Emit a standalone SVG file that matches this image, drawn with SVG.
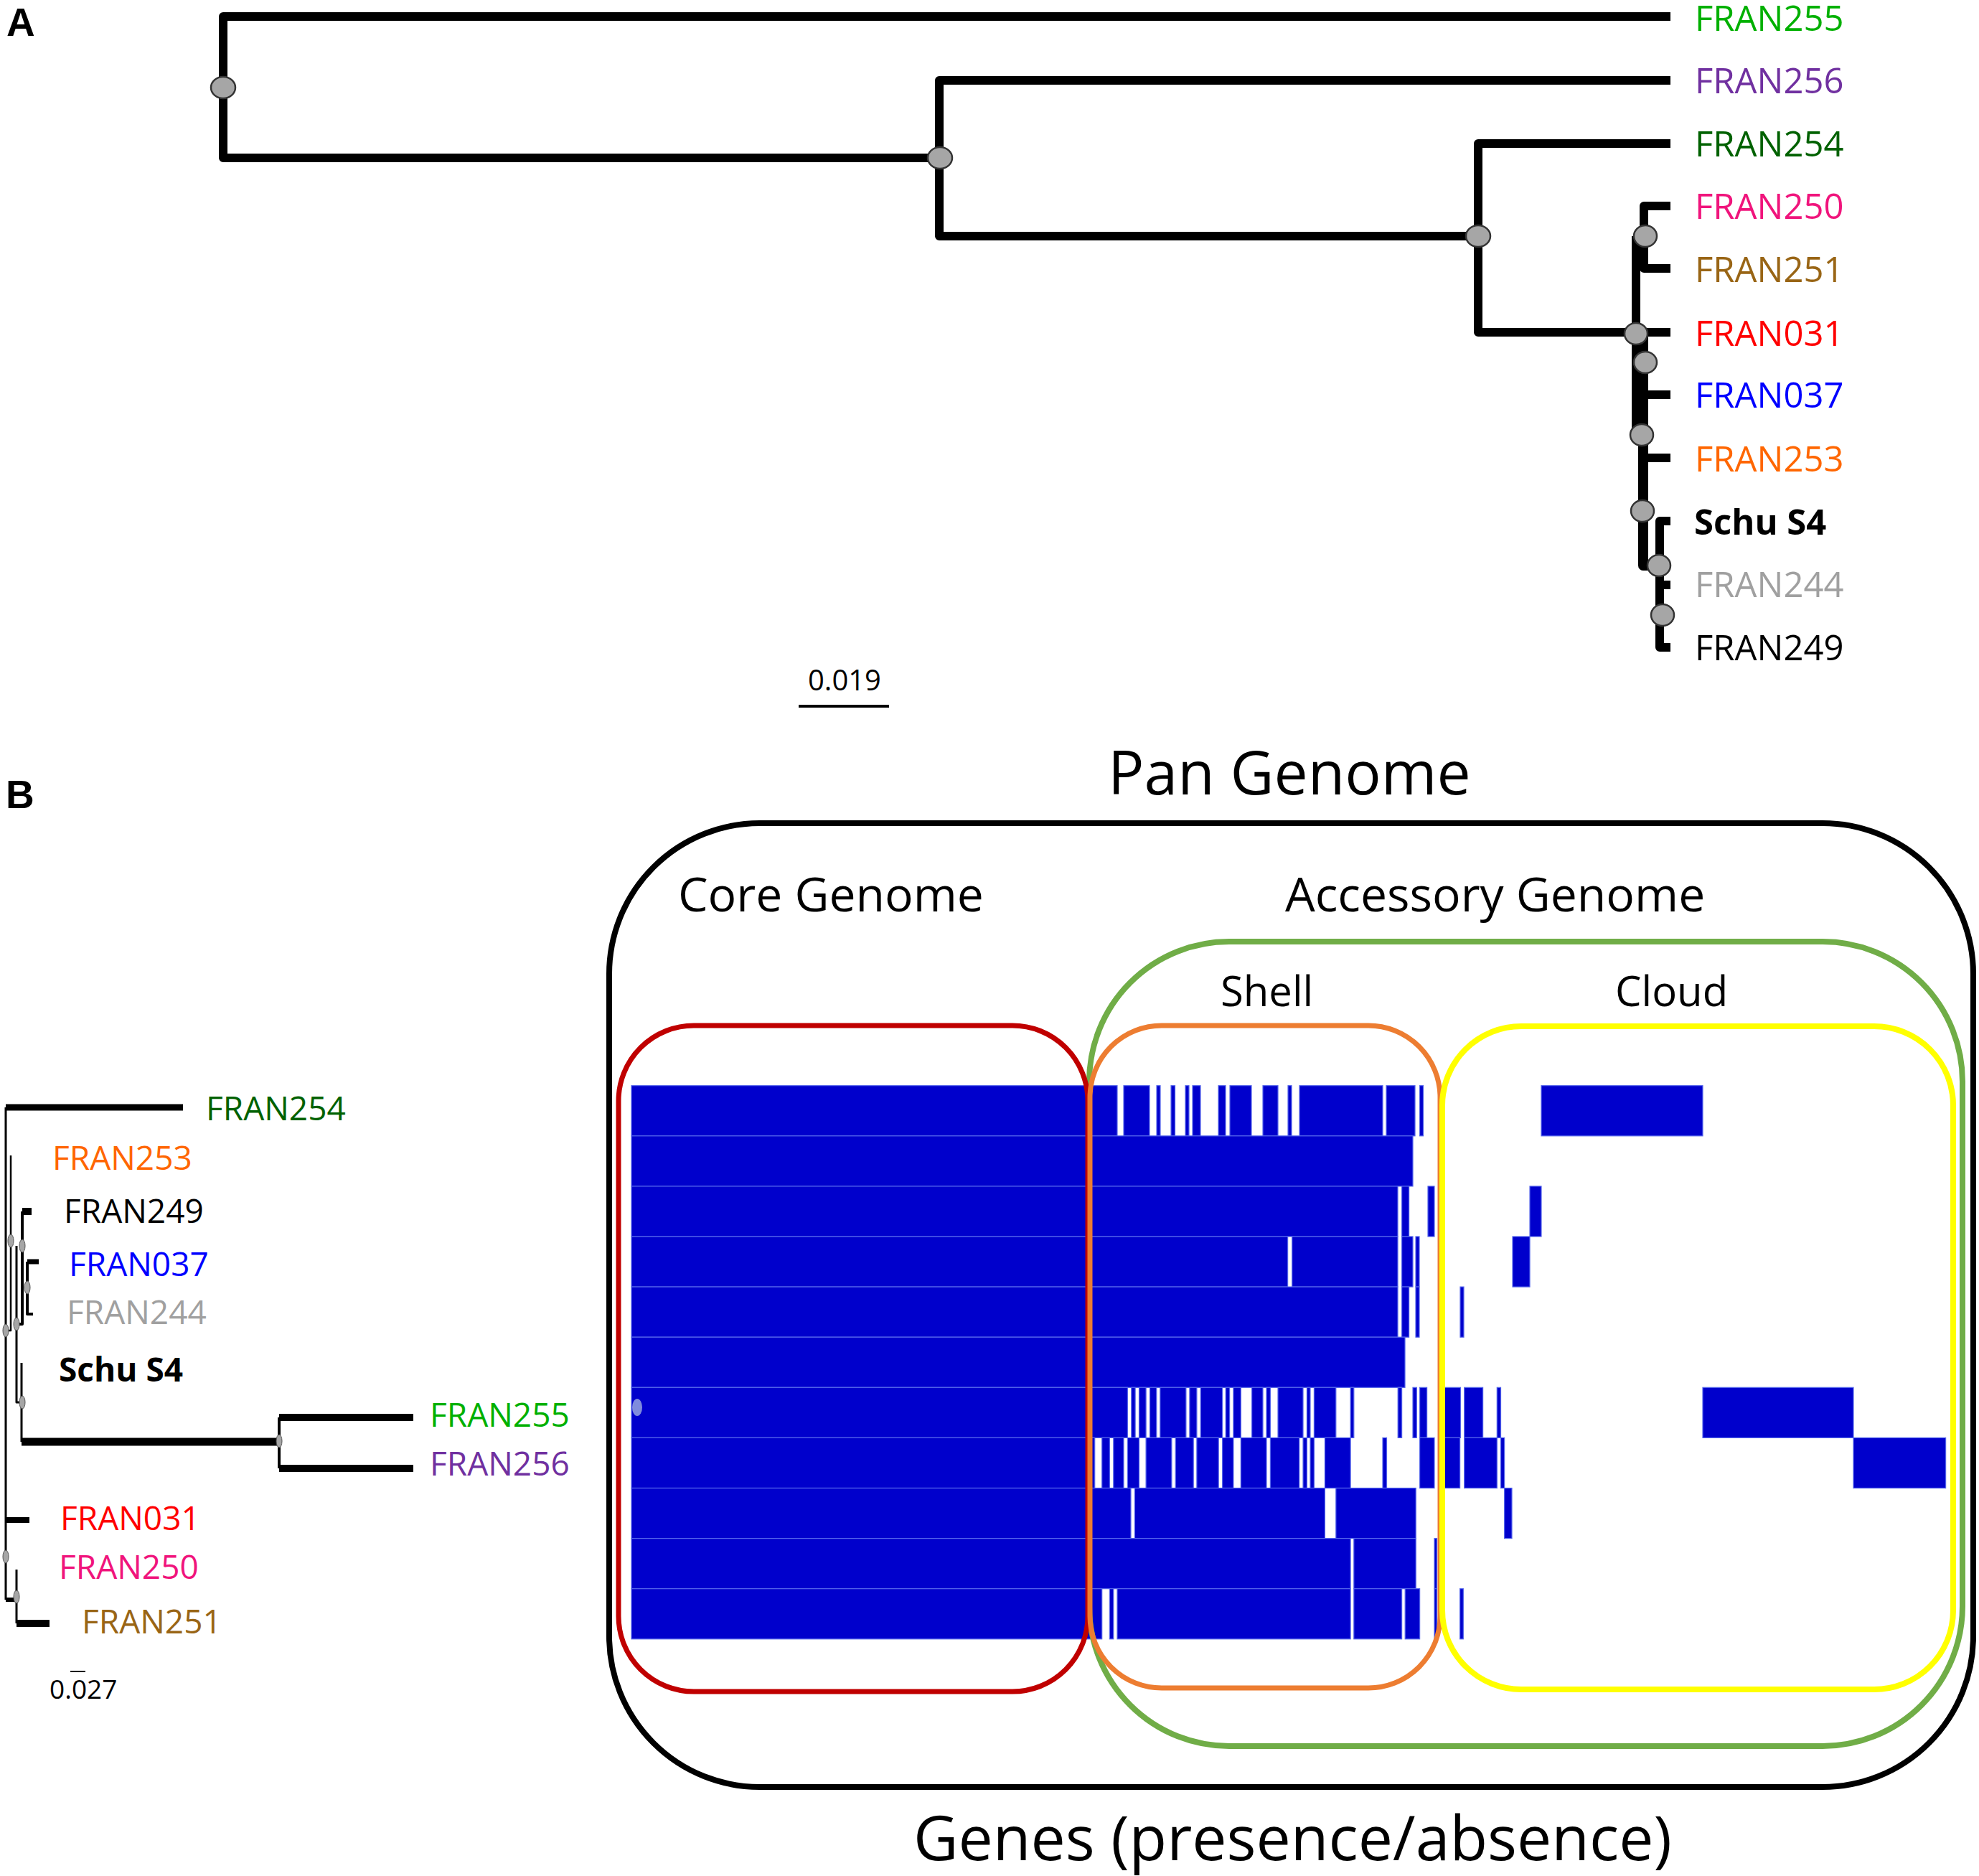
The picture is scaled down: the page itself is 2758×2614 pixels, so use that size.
<svg xmlns="http://www.w3.org/2000/svg" width="2758" height="2614" viewBox="0 0 2758 2614">
<style>
text{font-family:'Open Sans','Noto Sans',sans-serif;}
.pl{font-family:'Liberation Sans',Arial,sans-serif;font-weight:bold;font-size:55px;fill:#000;}
.la{font-size:49px;}
.lb{font-size:46px;}
.br{fill:none;stroke:#000;stroke-linejoin:round;stroke-linecap:butt;}
.ta{stroke-width:12;}
.nd{fill:#A6A6A6;stroke:#333;stroke-width:2.5;}
.ndb{fill:#A6A6A6;stroke:#555;stroke-width:1;}
.b rect{fill:#0000CC;stroke:#5566EC;stroke-width:1.2;}
.box{fill:none;}
.c255{fill:#00B000;}.c256{fill:#7030A0;}.c254{fill:#006100;}.c250{fill:#F0147C;}
.c251{fill:#996515;}.c031{fill:#FF0000;}.c037{fill:#0000FF;}.c253{fill:#FF6600;}
.c244{fill:#A0A0A0;}.c249{fill:#000;}.cs4{fill:#000;font-weight:bold;}
</style>

<text class="pl" x="9" y="50">A</text>
<text class="pl" x="8" y="1126">B</text>

<!-- Tree A connectors -->
<g id="treeA-connectors">
<path class="br ta" d="M2328,23 H311 V220 H1309"/>
<path class="br ta" d="M2328,112 H1309 V329 H2060"/>
<path class="br ta" d="M2328,200 H2060 V463 H2328"/>
<path class="br ta" d="M2280,329 V610"/>
<path class="br ta" d="M2328,287 H2291 V374 H2328"/>
<path class="br" stroke-width="14" d="M2290,463 V788 H2313"/>
<path class="br ta" d="M2291,550 H2328"/>
<path class="br ta" d="M2291,638 H2328"/>
<path class="br ta" d="M2328,726 H2313 V902 H2328"/>
<path class="br ta" d="M2313,815 H2328"/>
<path class="br" stroke-width="4" d="M1113,984 H1239"/>
</g>
<g id="treeA-nodes">
<ellipse class="nd" cx="311" cy="122" rx="17" ry="15"/>
<ellipse class="nd" cx="1310" cy="220" rx="17" ry="15"/>
<ellipse class="nd" cx="2060" cy="329" rx="17" ry="15"/>
<ellipse class="nd" cx="2293" cy="329" rx="16" ry="15"/>
<ellipse class="nd" cx="2280" cy="465" rx="16" ry="15"/>
<ellipse class="nd" cx="2293" cy="505" rx="16" ry="15"/>
<ellipse class="nd" cx="2288" cy="606" rx="16" ry="15"/>
<ellipse class="nd" cx="2289" cy="712" rx="16" ry="15"/>
<ellipse class="nd" cx="2312" cy="788" rx="16" ry="15"/>
<ellipse class="nd" cx="2317" cy="857" rx="16" ry="15"/>
</g>
<g id="treeA-labels">
<g id="a-FRAN255"><text class="la c255" x="2362" y="43">FRAN255</text></g>
<g id="a-FRAN256"><text class="la c256" x="2362" y="130">FRAN256</text></g>
<g id="a-FRAN254"><text class="la c254" x="2362" y="218">FRAN254</text></g>
<g id="a-FRAN250"><text class="la c250" x="2362" y="305">FRAN250</text></g>
<g id="a-FRAN251"><text class="la c251" x="2362" y="393">FRAN251</text></g>
<g id="a-FRAN031"><text class="la c031" x="2362" y="482">FRAN031</text></g>
<g id="a-FRAN037"><text class="la c037" x="2362" y="568">FRAN037</text></g>
<g id="a-FRAN253"><text class="la c253" x="2362" y="657">FRAN253</text></g>
<g id="a-SchuS4"><text class="la cs4" x="2361" y="745">Schu S4</text></g>
<g id="a-FRAN244"><text class="la c244" x="2362" y="832">FRAN244</text></g>
<g id="a-FRAN249"><text class="la c249" x="2362" y="920">FRAN249</text></g>
<g id="a-scale"><text x="1126" y="962" font-size="40" fill="#000">0.019</text></g>
</g>

<!-- Tree B connectors -->
<g id="treeB-connectors">
<path class="br" stroke-width="3" d="M8,1543 V2229"/>
<path class="br" stroke-width="9" d="M255,1543 H8"/>
<path class="br" stroke-width="2.5" d="M15,1610 V1854 H8"/>
<path class="br" stroke-width="10" d="M44,1688 H31"/>
<path class="br" stroke-width="4" d="M31,1688 V1845 H23"/>
<path class="br" stroke-width="7" d="M54,1758 H38"/>
<path class="br" stroke-width="4" d="M38,1758 V1831 H46"/>
<path class="br" stroke-width="3" d="M23,1736 V1954 H30"/>
<path class="br" stroke-width="3" d="M30,1899 V2009"/>
<path class="br" stroke-width="11" d="M30,2009 H389"/>
<path class="br" stroke-width="4" d="M389,1975 V2046"/>
<path class="br" stroke-width="10" d="M389,1975 H576 M389,2046 H576"/>
<path class="br" stroke-width="8" d="M8,2118 H41"/>
<path class="br" stroke-width="6" d="M8,2229 H23"/>
<path class="br" stroke-width="3" d="M23,2187 V2262"/>
<path class="br" stroke-width="10" d="M23,2262 H69"/>
<path class="br" stroke-width="2" d="M98,2329 H119"/>
</g>
<g id="treeB-nodes">
<ellipse class="ndb" cx="15" cy="1729" rx="4" ry="9"/>
<ellipse class="ndb" cx="31" cy="1736" rx="4" ry="9"/>
<ellipse class="ndb" cx="38" cy="1794" rx="4" ry="9"/>
<ellipse class="ndb" cx="8" cy="1854" rx="4" ry="9"/>
<ellipse class="ndb" cx="23" cy="1845" rx="4" ry="9"/>
<ellipse class="ndb" cx="31" cy="1954" rx="4" ry="9"/>
<ellipse class="ndb" cx="389" cy="2008" rx="4" ry="9"/>
<ellipse class="ndb" cx="8" cy="2169" rx="4" ry="9"/>
<ellipse class="ndb" cx="23" cy="2225" rx="4" ry="9"/>
</g>
<g id="treeB-labels">
<g id="b-FRAN254"><text class="lb c254" x="287" y="1561">FRAN254</text></g>
<g id="b-FRAN253"><text class="lb c253" x="73" y="1630">FRAN253</text></g>
<g id="b-FRAN249"><text class="lb c249" x="89" y="1704">FRAN249</text></g>
<g id="b-FRAN037"><text class="lb c037" x="96" y="1778">FRAN037</text></g>
<g id="b-FRAN244"><text class="lb c244" x="93" y="1845">FRAN244</text></g>
<g id="b-SchuS4"><text class="lb cs4" x="82" y="1925">Schu S4</text></g>
<g id="b-FRAN255"><text class="lb c255" x="599" y="1988">FRAN255</text></g>
<g id="b-FRAN256"><text class="lb c256" x="599" y="2056">FRAN256</text></g>
<g id="b-FRAN031"><text class="lb c031" x="84" y="2132">FRAN031</text></g>
<g id="b-FRAN250"><text class="lb c250" x="82" y="2200">FRAN250</text></g>
<g id="b-FRAN251"><text class="lb c251" x="114" y="2276">FRAN251</text></g>
<g id="b-scale"><text x="69" y="2367" font-size="37" fill="#000">0.027</text></g>
</g>

<!-- Heatmap -->
<g id="heatmap" class="b">
<g transform="translate(0,1512.7)">
<rect x="880" y="0" width="677" height="70.1"/><rect x="1566" y="0" width="36" height="70.1"/><rect x="1612" y="0" width="5" height="70.1"/><rect x="1632" y="0" width="5.5" height="70.1"/><rect x="1652" y="0" width="5" height="70.1"/><rect x="1662" y="0" width="11" height="70.1"/><rect x="1698" y="0" width="10" height="70.1"/><rect x="1714" y="0" width="30" height="70.1"/><rect x="1760" y="0" width="21" height="70.1"/><rect x="1795" y="0" width="5" height="70.1"/><rect x="1811" y="0" width="116" height="70.1"/><rect x="1932" y="0" width="40" height="70.1"/><rect x="1978.5" y="0" width="5" height="70.1"/><rect x="2148" y="0" width="225" height="70.1"/>
</g>
<g transform="translate(0,1582.8)">
<rect x="880" y="0" width="1089" height="70.1"/>
</g>
<g transform="translate(0,1652.9)">
<rect x="880" y="0" width="1068" height="70.1"/><rect x="1953.6" y="0" width="10" height="70.1"/><rect x="1990" y="0" width="9" height="70.1"/><rect x="2132" y="0" width="16" height="70.1"/>
</g>
<g transform="translate(0,1723)">
<rect x="880" y="0" width="914.6" height="70.1"/><rect x="1800.7" y="0" width="147.3" height="70.1"/><rect x="1953.6" y="0" width="15.4" height="70.1"/><rect x="1973" y="0" width="5" height="70.1"/><rect x="2108" y="0" width="24" height="70.1"/>
</g>
<g transform="translate(0,1793.1)">
<rect x="880" y="0" width="1068" height="70.1"/><rect x="1953.6" y="0" width="10" height="70.1"/><rect x="1973" y="0" width="5" height="70.1"/><rect x="2035" y="0" width="5" height="70.1"/>
</g>
<g transform="translate(0,1863.2)">
<rect x="880" y="0" width="1078" height="70.1"/>
</g>
<g transform="translate(0,1933.3)">
<rect x="880" y="0" width="691.4" height="70.1"/><rect x="1576.8" y="0" width="5.3" height="70.1"/><rect x="1587.5" y="0" width="9.6" height="70.1"/><rect x="1602.5" y="0" width="9.3" height="70.1"/><rect x="1616.8" y="0" width="36.1" height="70.1"/><rect x="1657.9" y="0" width="10" height="70.1"/><rect x="1673.2" y="0" width="30.4" height="70.1"/><rect x="1708.2" y="0" width="5.4" height="70.1"/><rect x="1718.9" y="0" width="10.4" height="70.1"/><rect x="1744.6" y="0" width="15.4" height="70.1"/><rect x="1765" y="0" width="5.4" height="70.1"/><rect x="1781" y="0" width="35" height="70.1"/><rect x="1821.4" y="0" width="4.6" height="70.1"/><rect x="1831.4" y="0" width="30.4" height="70.1"/><rect x="1882.1" y="0" width="4.7" height="70.1"/><rect x="1948.2" y="0" width="5.4" height="70.1"/><rect x="1969" y="0" width="5.3" height="70.1"/><rect x="1978.6" y="0" width="10" height="70.1"/><rect x="2012.2" y="0" width="23.3" height="70.1"/><rect x="2040.7" y="0" width="25.9" height="70.1"/><rect x="2086.3" y="0" width="5.2" height="70.1"/><rect x="2373" y="0" width="210" height="70.1"/>
</g>
<g transform="translate(0,2003.4)">
<rect x="880" y="0" width="645.7" height="70.1"/><rect x="1535.7" y="0" width="10.7" height="70.1"/><rect x="1551.8" y="0" width="14.2" height="70.1"/><rect x="1571.4" y="0" width="16.1" height="70.1"/><rect x="1597.1" y="0" width="35.8" height="70.1"/><rect x="1638.2" y="0" width="25" height="70.1"/><rect x="1667.9" y="0" width="30.3" height="70.1"/><rect x="1703.6" y="0" width="15.3" height="70.1"/><rect x="1729.3" y="0" width="35.7" height="70.1"/><rect x="1770.4" y="0" width="40.3" height="70.1"/><rect x="1816" y="0" width="5.4" height="70.1"/><rect x="1826" y="0" width="5.4" height="70.1"/><rect x="1846.4" y="0" width="35.7" height="70.1"/><rect x="1927" y="0" width="5.5" height="70.1"/><rect x="1978.6" y="0" width="20.4" height="70.1"/><rect x="2012.5" y="0" width="22.1" height="70.1"/><rect x="2040.7" y="0" width="45.6" height="70.1"/><rect x="2091.5" y="0" width="5.1" height="70.1"/><rect x="2583" y="0" width="128.6" height="70.1"/>
</g>
<g transform="translate(0,2073.5)">
<rect x="880" y="0" width="696" height="70.1"/><rect x="1581.4" y="0" width="265" height="70.1"/><rect x="1861.8" y="0" width="111.4" height="70.1"/><rect x="2096.6" y="0" width="10.4" height="70.1"/>
</g>
<g transform="translate(0,2143.6)">
<rect x="880" y="0" width="1002.1" height="70.1"/><rect x="1886.8" y="0" width="86.4" height="70.1"/><rect x="1999" y="0" width="3.5" height="70.1"/>
</g>
<g transform="translate(0,2213.7)">
<rect x="880" y="0" width="655.7" height="70.1"/><rect x="1546.4" y="0" width="5.4" height="70.1"/><rect x="1557" y="0" width="325.1" height="70.1"/><rect x="1886.8" y="0" width="66.8" height="70.1"/><rect x="1958.2" y="0" width="20.4" height="70.1"/><rect x="1999" y="0" width="3.5" height="70.1"/><rect x="2034.6" y="0" width="4.7" height="70.1"/>
</g>
</g>
<ellipse cx="888" cy="1961" rx="7" ry="12" fill="#7F8BDD"/>

<!-- Genome boxes -->
<g id="pan-genome"><rect class="box" x="849" y="1147" width="1901" height="1343" rx="210" ry="210" stroke="#000" stroke-width="8"/></g>
<g id="accessory-genome"><rect class="box" x="1518" y="1312" width="1217" height="1121" rx="195" ry="195" stroke="#70AD47" stroke-width="8"/></g>
<g id="core-genome"><rect class="box" x="862" y="1429" width="654" height="928" rx="105" ry="105" stroke="#C00000" stroke-width="7"/></g>
<g id="shell"><rect class="box" x="1519" y="1429" width="488" height="923" rx="100" ry="100" stroke="#ED7D31" stroke-width="7"/></g>
<g id="cloud"><rect class="box" x="2010" y="1430" width="712" height="924" rx="110" ry="110" stroke="#FFFF00" stroke-width="8"/></g>

<g id="titles">
<text x="1544" y="1107" font-size="84" fill="#000">Pan Genome</text>
<text x="945" y="1270" font-size="66" fill="#000">Core Genome</text>
<text x="1791" y="1270" font-size="66" fill="#000">Accessory Genome</text>
<text x="1701" y="1402" font-size="58" fill="#000">Shell</text>
<text x="2251" y="1402" font-size="58" fill="#000">Cloud</text>
<text x="1273" y="2592" font-size="86" fill="#000">Genes (presence/absence)</text>
</g>
</svg>
